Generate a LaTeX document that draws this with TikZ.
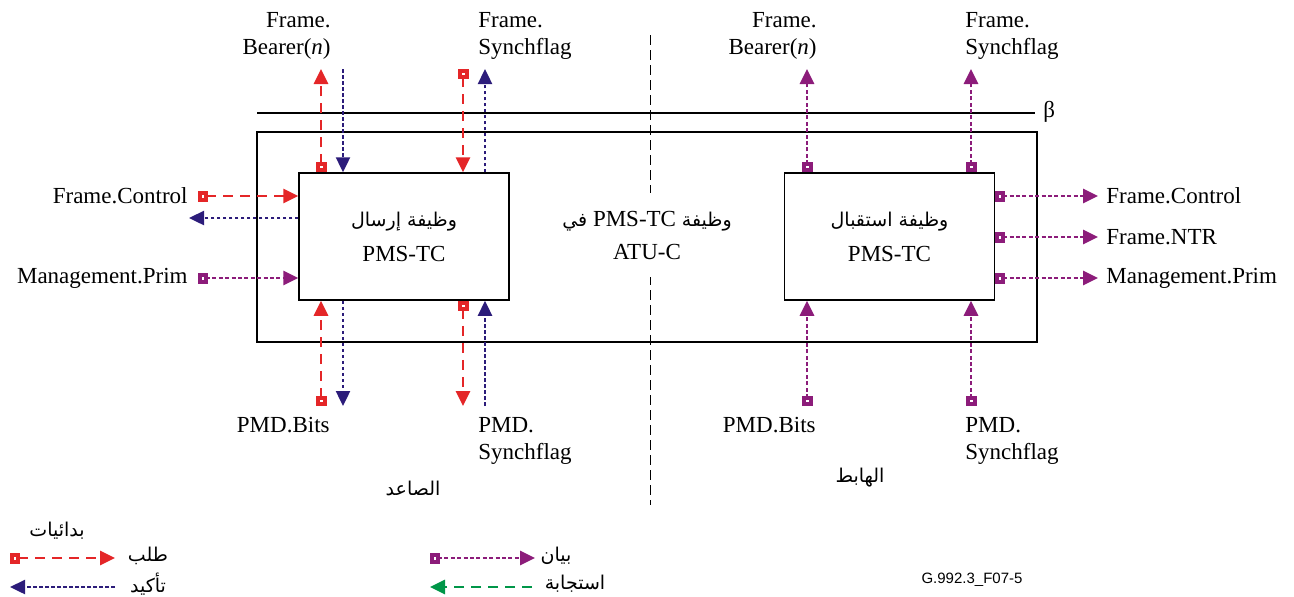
\documentclass[tikz,border=0pt]{standalone}
\usepackage{fontspec}
\setmainfont{Liberation Serif}
\newfontfamily\arfont[Script=Arabic]{DejaVu Sans}
\newfontfamily\idfont{Liberation Sans}
\TeXXeTstate=1
\usetikzlibrary{arrows.meta, positioning}
\definecolor{primred}{RGB}{228, 38, 40}
\definecolor{primnavy}{RGB}{44, 28, 122}
\definecolor{primpurple}{RGB}{140, 28, 122}
\definecolor{primgreen}{RGB}{0, 150, 72}
\newcommand{\ar}[1]{{\arfont\beginR #1\endR}}
\newcommand{\arsmall}[1]{{\fontsize{9.5}{12}\selectfont\ar{#1}}}
\tikzset{
  fnbox/.style={rectangle, draw, line width=0.75pt, minimum width=105pt, minimum height=63.5pt,
                align=center, font=\fontsize{11.5}{17.5}\selectfont},
  sig/.style={inner sep=0pt, font=\fontsize{11.5}{13.5}\selectfont},
  artext/.style={inner sep=0pt, font=\fontsize{9.5}{12}\selectfont},
  req/.style={draw=primred, line width=1.4pt, dash pattern=on 5pt off 3.5pt, {Square[open, length=5pt, width=5.5pt, line width=2pt]}-{Triangle[length=7.5pt, width=7pt]}},
  cnf/.style={draw=primnavy, line width=1.2pt, dash pattern=on 1.8pt off 1.2pt, -{Triangle[length=7.5pt, width=7pt]}},
  ind/.style={draw=primpurple, line width=1.4pt, dash pattern=on 2pt off 1.2pt, {Square[open, length=5pt, width=5.5pt, line width=2pt]}-{Triangle[length=7.5pt, width=7pt]}},
  rsp/.style={draw=primgreen, line width=1.4pt, dash pattern=on 5pt off 3.5pt, -{Triangle[length=7.5pt, width=7pt]}},
}
\begin{document}
\begin{tikzpicture}[x=0.5pt, y=-0.5pt]
\useasboundingbox (0,0) rectangle (1294,596);

% ATU-C block, beta line and the up/down split
\node[fnbox, minimum width=390pt, minimum height=105pt] (atu) at (647,237) {};
\coordinate (betaL) at (257,113);
\coordinate (betaR) at (1035,113);
\draw[line width=0.75pt] (betaL) -- (betaR);
\node[sig, anchor=west] (beta) at (1043,112) {β};
\coordinate (splitT) at (650,35);
\coordinate (splitB) at (650,505);
\draw[line width=0.5pt, dash pattern=on 5pt off 2.5pt] (splitT) -- (splitB);
\node[fill=white, inner xsep=2pt, inner ysep=9pt, align=center, font=\fontsize{11.5}{16.5}\selectfont] (atuname) at (647,235)
  {\beginR{\fontsize{9.5}{12}\selectfont\arfont وظيفة} \beginL PMS-TC\endL{} {\fontsize{9.5}{12}\selectfont\arfont في}\endR\\ATU-C};

% transmit / receive functions
\node[fnbox] (tx) at (404,236.5) {\arsmall{وظيفة إرسال}\\PMS-TC};
\node[fnbox] (rx) at (889.5,236.5) {\arsmall{وظيفة استقبال}\\PMS-TC};

% tx, frame side
\node[sig, anchor=north east, align=right] (txbearer) at (331,12) {Frame.\\Bearer(\textit{n})};
\node[sig, anchor=north west, align=left] (txsync) at (478,12) {Frame.\\Synchflag};
\coordinate (tA) at (321,69);
\coordinate (tB) at (343,69);
\coordinate (tC) at (463,69);
\coordinate (tD) at (485,69);
\draw[req] (tx.north -| tA) -- (tA);
\draw[cnf] (tB) -- (tx.north -| tB);
\draw[req] (tC) -- (tx.north -| tC);
\draw[cnf] (tx.north -| tD) -- (tD);

% tx, PMD side
\node[sig, anchor=north east] (txbits) at (330,417) {PMD.Bits};
\node[sig, anchor=north west, align=left] (txpmdsync) at (478,417) {PMD.\\Synchflag};
\coordinate (bA) at (321,406);
\coordinate (bB) at (343,406);
\coordinate (bC) at (463,406);
\coordinate (bD) at (485,406);
\draw[req] (bA) -- (tx.south -| bA);
\draw[cnf] (tx.south -| bB) -- (bB);
\draw[req] (tx.south -| bC) -- (bC);
\draw[cnf] (bD) -- (tx.south -| bD);

% tx, control and management
\node[sig, anchor=east] (fctl) at (188,196) {Frame.Control};
\node[sig, anchor=east] (mgmt) at (188,278) {Management.Prim};
\coordinate (cnfout) at (189,218);
\draw[req, shorten <=5pt] (fctl.east) -- (tx.west |- fctl.east);
\draw[cnf] (tx.west |- cnfout) -- (cnfout);
\draw[ind, shorten <=5pt] (mgmt.east) -- (tx.west |- mgmt.east);

% rx, frame side
\node[sig, anchor=north east, align=right] (rxbearer) at (817,12) {Frame.\\Bearer(\textit{n})};
\node[sig, anchor=north west, align=left] (rxsync) at (965,12) {Frame.\\Synchflag};
\coordinate (uA) at (807,69);
\coordinate (uB) at (971,69);
\draw[ind] (rx.north -| uA) -- (uA);
\draw[ind] (rx.north -| uB) -- (uB);

% rx, PMD side
\node[sig, anchor=north east] (rxbits) at (816,417) {PMD.Bits};
\node[sig, anchor=north west, align=left] (rxpmdsync) at (965,417) {PMD.\\Synchflag};
\coordinate (dA) at (807,406);
\coordinate (dB) at (971,406);
\draw[ind] (dA) -- (rx.south -| dA);
\draw[ind] (dB) -- (rx.south -| dB);

% rx, control, NTR and management
\node[sig, anchor=west] (rfctl) at (1106,196) {Frame.Control};
\node[sig, anchor=west] (rntr) at (1106,237) {Frame.NTR};
\node[sig, anchor=west] (rmgmt) at (1106,278) {Management.Prim};
\draw[ind, shorten >=4pt] (rx.east |- rfctl.west) -- (rfctl.west);
\draw[ind, shorten >=4pt] (rx.east |- rntr.west) -- (rntr.west);
\draw[ind, shorten >=4pt] (rx.east |- rmgmt.west) -- (rmgmt.west);

% direction names
\node[artext] (upname) at (413,488) {\ar{الصاعد}};
\node[artext] (downname) at (860,478) {\ar{الهابط}};

% legend
\node[artext] (legtitle) at (57,531) {\ar{بدائيات}};
\coordinate (lgreqA) at (10,558);
\coordinate (lgreqB) at (115,558);
\coordinate (lgcnfA) at (115,587);
\coordinate (lgcnfB) at (10,587);
\coordinate (lgindA) at (430,558);
\coordinate (lgindB) at (535,558);
\coordinate (lgrspA) at (532,587);
\coordinate (lgrspB) at (430,587);
\draw[req] (lgreqA) -- (lgreqB);
\draw[cnf] (lgcnfA) -- (lgcnfB);
\draw[ind] (lgindA) -- (lgindB);
\draw[rsp] (lgrspA) -- (lgrspB);
\node[artext] (lgreq) at (148,556) {\ar{طلب}};
\node[artext] (lgcnf) at (148,584) {\ar{تأكيد}};
\node[artext] (lgind) at (556,556) {\ar{بيان}};
\node[artext] (lgrsp) at (575,584) {\ar{استجابة}};

\node[inner sep=0pt, font=\idfont\fontsize{7.5}{9}\selectfont] (figid) at (972,580) {G.992.3\_F07-5};
\end{tikzpicture}
\end{document}
